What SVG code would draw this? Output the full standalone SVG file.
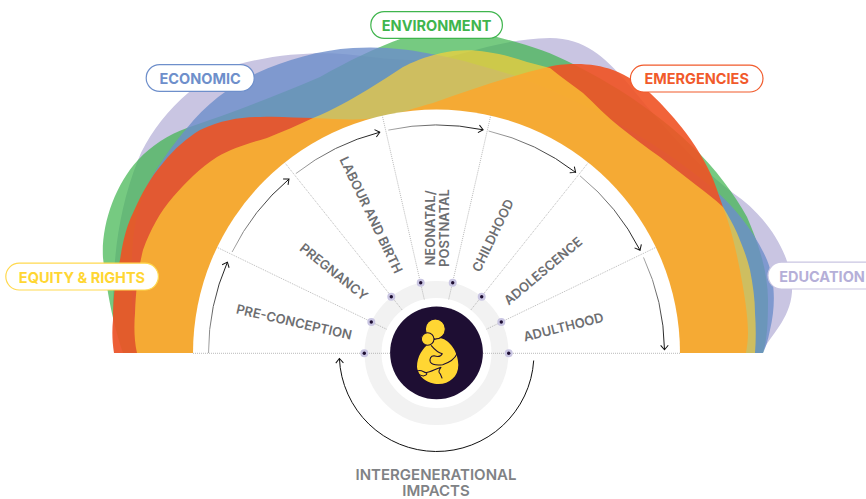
<svg xmlns="http://www.w3.org/2000/svg" width="866" height="499" viewBox="0 0 866 499">
<style>
.pill{fill:#fff;stroke-width:1.2}
.pt{font:700 14.5px Inter,"Liberation Sans",sans-serif;text-anchor:middle}
.lb{font:600 13px Inter,"Liberation Sans",sans-serif;fill:#6d6e71;text-anchor:middle}
.ig{font:600 15px Inter,"Liberation Sans",sans-serif;fill:#808285;text-anchor:middle}
.dot{fill:none;stroke:#a8a8a8;stroke-width:.8;stroke-dasharray:1 1}
.arc{fill:none;stroke-width:1;marker-end:url(#ah)}
.n1{fill:#c9c5e2}.n2{fill:#1e0e33}
.ic{fill:#ffd633;stroke:#1e0e33;stroke-width:3.2}
.il{fill:none;stroke:#1e0e33;stroke-width:3.2;stroke-linecap:round;stroke-linejoin:round}
</style>
<defs>
<marker id="ah" markerUnits="userSpaceOnUse" markerWidth="12" markerHeight="12" refX="0" refY="0" orient="auto" overflow="visible"><path d="M-4.5 -3.8L0 0L-4.5 3.8" fill="none" stroke="#111" stroke-width="1"/></marker>
<linearGradient id="g1" gradientUnits="userSpaceOnUse" x1="208.5" y1="353" x2="227.4" y2="262.1"><stop offset="0" stop-color="#aaa"/><stop offset="1" stop-color="#111"/></linearGradient>
<linearGradient id="g2" gradientUnits="userSpaceOnUse" x1="232.1" y1="252" x2="289" y2="179.1"><stop offset="0" stop-color="#aaa"/><stop offset="1" stop-color="#111"/></linearGradient>
<linearGradient id="g3" gradientUnits="userSpaceOnUse" x1="295.8" y1="173.6" x2="379.8" y2="132.2"><stop offset="0" stop-color="#aaa"/><stop offset="1" stop-color="#111"/></linearGradient>
<linearGradient id="g4" gradientUnits="userSpaceOnUse" x1="388.3" y1="130.1" x2="483.1" y2="129.8"><stop offset="0" stop-color="#aaa"/><stop offset="1" stop-color="#111"/></linearGradient>
<linearGradient id="g5" gradientUnits="userSpaceOnUse" x1="488.6" y1="131" x2="575.6" y2="172.4"><stop offset="0" stop-color="#aaa"/><stop offset="1" stop-color="#111"/></linearGradient>
<linearGradient id="g6" gradientUnits="userSpaceOnUse" x1="580" y1="175.8" x2="640" y2="250.2"><stop offset="0" stop-color="#aaa"/><stop offset="1" stop-color="#111"/></linearGradient>
<linearGradient id="g7" gradientUnits="userSpaceOnUse" x1="643.5" y1="257.4" x2="664.5" y2="349.8"><stop offset="0" stop-color="#aaa"/><stop offset="1" stop-color="#111"/></linearGradient>
</defs>
<rect width="866" height="499" fill="#fff"/>
<g id="bands">
<path id="band-education" fill="#c9c5e2" d="M114 353C112 300 110 230 138 160C155 118 200 72 247 62C290 52 330 52 353 55C380 58 410 62 437 59C465 55 500 39 550 38C585 38 605 58 625 80C650 110 690 160 733 193C770 218 793 258 792 292C790 320 770 335 762 353Z"/>
<path id="band-environment" fill="#3cb44b" fill-opacity=".7" d="M123 353C115 330 108 300 103 258C101 225 115 185 138 160C152 145 168 135 187 128C233 112 273 97 320 77C350 60 375 48 403 38C430 30 470 30 497 37C525 44 550 52 573 64C625 90 665 120 693 147C715 168 735 195 747 217C757 240 768 270 768 300C768 325 767 340 763 353Z"/>
<path id="band-economic" fill="#6d8dca" fill-opacity=".8" d="M137 353C132 320 130 280 133 240C136 215 143 190 152 177C165 155 180 136 187 128C205 105 230 86 257 73C285 60 320 50 353 48C380 46 410 49 437 55C465 60 490 69 513 75C570 95 650 135 715 190C735 208 755 232 767 260C775 280 776 305 770 330C768 340 766 347 763 353Z"/>
<path id="band-emergencies" fill="#f05224" fill-opacity=".9" d="M114 353C112 340 112 330 113 320C113 295 116 275 120 260C123 240 127 225 133 213C142 193 150 178 163 163C175 148 187 138 200 130C222 120 240 117 260 117C280 116 297 118 313 118C340 119 360 121 383 117C400 113 415 108 433 103C470 90 510 76 548 67C560 64 568 64 576 64C590 64 602 66 613 70C628 76 640 84 650 93C665 107 676 120 686 133C700 152 710 170 716 187L723 207C732 230 738 258 743 287C746 305 748 320 748 333C748 340 747 347 746 353Z"/>
<path id="band-equity" fill="#fdd235" fill-opacity=".68" d="M137 353C134 340 134 325 135 313C136 290 138 270 143 250C150 230 160 212 173 197C186 182 200 168 217 157C232 148 250 143 267 138C282 132 298 125 313 118C333 110 350 100 367 90C380 82 392 74 403 67C413 62 420 59 427 57C436 54 445 52 453 51C465 50 476 50 487 52C502 54 515 58 527 62C535 64 542 66 550 68C560 76 572 85 583 93C595 104 607 117 620 127C633 137 647 148 660 157C672 166 684 176 696 185C705 192 715 199 723 207C728 215 733 224 737 233C742 245 747 257 750 270C753 285 755 300 755 313C756 327 756 340 755 353Z"/>
</g>
<circle id="fan" cx="436.5" cy="353" r="243.5" fill="#fff"/>
<rect x="180" y="353.6" width="520" height="75" fill="#fff"/>
<circle id="ring" cx="436.5" cy="353" r="63.5" fill="none" stroke="#f2f2f2" stroke-width="17"/>
<g id="connectors">
<g id="spokes">
<path class="dot" d="M193 353.3H680"/>
<path class="dot" d="M386.5 329.2L217 247.3M402.2 310L284.7 162.6M424.3 299.4L382.3 115.6M448.7 299.4L490.7 115.6M470.8 310L588.3 162.6M486.5 329.2L656 247.3"/>
</g>
<path class="arc" stroke="url(#g1)" d="M208.5 353A228 228 0 0 1 227.4 262.1"/>
<path class="arc" stroke="url(#g2)" d="M232.1 252A228 228 0 0 1 289 179.1"/>
<path class="arc" stroke="url(#g3)" d="M295.8 173.6A228 228 0 0 1 379.8 132.2"/>
<path class="arc" stroke="url(#g4)" d="M388.3 130.1A228 228 0 0 1 483.1 129.8"/>
<path class="arc" stroke="url(#g5)" d="M488.6 131A228 228 0 0 1 575.6 172.4"/>
<path class="arc" stroke="url(#g6)" d="M580 175.8A228 228 0 0 1 640 250.2"/>
<path class="arc" stroke="url(#g7)" d="M643.5 257.4A228 228 0 0 1 664.5 349.8"/>
<path class="arc" stroke="#111" d="M533.7 360.5A97.3 97.3 0 0 1 339.4 358.5"/>
</g>
<g id="stage-dots">
<g id="dot-1"><circle class="n1" cx="364.3" cy="353.3" r="4"/><circle class="n2" cx="364.3" cy="353.3" r="1.7"/></g>
<g id="dot-2"><circle class="n1" cx="371.3" cy="322" r="4"/><circle class="n2" cx="371.3" cy="322" r="1.7"/></g>
<g id="dot-3"><circle class="n1" cx="391.3" cy="296.7" r="4"/><circle class="n2" cx="391.3" cy="296.7" r="1.7"/></g>
<g id="dot-4"><circle class="n1" cx="420.7" cy="282.7" r="4"/><circle class="n2" cx="420.7" cy="282.7" r="1.7"/></g>
<g id="dot-5"><circle class="n1" cx="452.7" cy="282.7" r="4"/><circle class="n2" cx="452.7" cy="282.7" r="1.7"/></g>
<g id="dot-6"><circle class="n1" cx="481.7" cy="296.7" r="4"/><circle class="n2" cx="481.7" cy="296.7" r="1.7"/></g>
<g id="dot-7"><circle class="n1" cx="501.3" cy="322" r="4"/><circle class="n2" cx="501.3" cy="322" r="1.7"/></g>
<g id="dot-8"><circle class="n1" cx="508.7" cy="353.3" r="4"/><circle class="n2" cx="508.7" cy="353.3" r="1.7"/></g>
</g>
<g id="hub">
<circle cx="436.5" cy="352.8" r="46.4" fill="#1e0e33"/>
<g transform="translate(406 310) scale(.3333)">
<path fill="#ffd633" d="M105 85C130 90 157 125 157 165C157 200 130 222 98 222C65 222 35 200 33 170C33 140 50 115 70 100C82 90 95 85 105 85Z"/>
<circle class="ic" cx="88" cy="57" r="30"/>
<circle class="ic" cx="65" cy="87" r="19"/>
<path class="il" d="M76 107C85 118 95 128 109 131C105 139 95 141 84 137C74 137 70 148 73 156C78 164 95 166 110 164C130 158 146 148 154 130"/>
<path class="il" d="M34 183C45 178 52 186 60 188C75 186 90 176 105 172C100 180 95 186 103 192L108 204"/>
<path class="il" d="M34 183C36 192 44 197 52 198C60 196 66 192 60 188"/>
</g>
</g>
<g id="labels">
<g id="label-preconception"><text class="lb" transform="translate(293 326.5) rotate(12.86)">PRE-CONCEPTION</text></g>
<g id="label-pregnancy"><text class="lb" transform="translate(331 275.5) rotate(38.57)">PREGNANCY</text></g>
<g id="label-labour"><text class="lb" transform="translate(367 217) rotate(64.29)">LABOUR AND BIRTH</text></g>
<g id="label-neonatal"><text class="lb" transform="translate(435 228) rotate(-90)">NEONATAL/</text><text class="lb" transform="translate(448.5 228) rotate(-90)">POSTNATAL</text></g>
<g id="label-childhood"><text class="lb" transform="translate(497 237.5) rotate(-64.29)">CHILDHOOD</text></g>
<g id="label-adolescence"><text class="lb" transform="translate(546 274.5) rotate(-40)">ADOLESCENCE</text></g>
<g id="label-adulthood"><text class="lb" transform="translate(564.5 331.5) rotate(-14)">ADULTHOOD</text></g>
<g id="label-intergen"><text class="ig" x="436" y="479.5">INTERGENERATIONAL</text><text class="ig" x="436" y="495.5">IMPACTS</text></g>
</g>
<g id="node-environment"><rect class="pill" x="370.8" y="11.6" width="131.6" height="26.8" rx="13.4" stroke="#3fb54d"/><text class="pt" x="436.6" y="30.8" fill="#3fb54d">ENVIRONMENT</text></g>
<g id="node-economic"><rect class="pill" x="146.2" y="64.6" width="108" height="26.8" rx="13.4" stroke="#6e8fcb"/><text class="pt" x="200.2" y="83.8" fill="#6e8fcb">ECONOMIC</text></g>
<g id="node-emergencies"><rect class="pill" x="630.4" y="65.2" width="132.6" height="26.8" rx="13.4" stroke="#f15a2b"/><text class="pt" x="696.7" y="84.2" fill="#f15a2b">EMERGENCIES</text></g>
<g id="node-equity"><rect class="pill" x="5.8" y="263.2" width="152.6" height="26.8" rx="13.4" stroke="#ffd94f"/><text class="pt" x="82" y="282.5" fill="#ffd633">EQUITY &amp; RIGHTS</text></g>
<g id="node-education"><rect class="pill" x="768" y="262.2" width="112" height="26.8" rx="13.4" stroke="#c9c5e2"/><text class="pt" x="822" y="281.6" fill="#b5afd8">EDUCATION</text></g>
</svg>
